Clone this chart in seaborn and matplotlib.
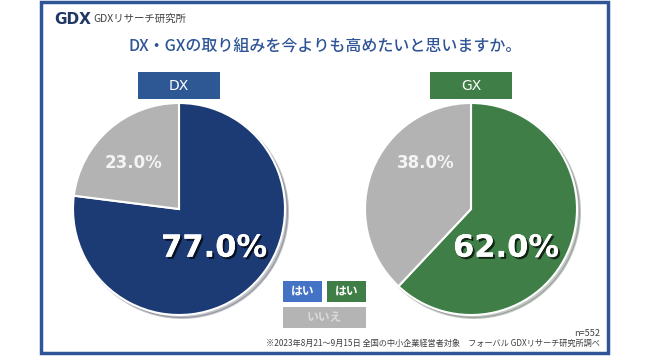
import matplotlib
matplotlib.use("Agg")
import matplotlib.pyplot as plt
import matplotlib.patheffects as pe
from matplotlib.patches import Rectangle
import seaborn as sns

# データ
categories = ["はい", "いいえ"]
dx_values = [77.0, 23.0]
gx_values = [62.0, 38.0]
chart_names = ["DX", "GX"]
title = "DX・GXの取り組みを今よりも高めたいと思いますか。"
note = "※2023年8月21～9月15日 全国の中小企業経営者対象　フォーバル GDXリサーチ研究所調べ"
sample = "n=552"

sns.set_theme(style="white")
plt.rcParams['font.family'] = ['Noto Sans CJK JP', 'DejaVu Sans']

W, H = 650, 359
fig = plt.figure(figsize=(6.5, 3.59), dpi=100)
fig.patch.set_facecolor("white")


def fx(x):
    return x / W


def fy(y):
    return 1 - y / H


def box(x0, y0, x1, y1, color, **kw):
    fig.add_artist(Rectangle((fx(x0), fy(y1)), fx(x1) - fx(x0), fy(y0) - fy(y1),
                             transform=fig.transFigure, facecolor=color,
                             edgecolor=kw.get("edgecolor", "none"),
                             lw=kw.get("lw", 0), fill=kw.get("fill", True)))


# 外枠
box(41, 1.5, 608, 353, "none", edgecolor="#2F5597", lw=2.5, fill=False)

# ロゴとタイトル
fig.text(fx(54), fy(19), "GDX", fontsize=11, weight="bold", color="#1F3864",
         family="DejaVu Sans", ha="left", va="center")
fig.text(fx(93), fy(19), "GDXリサーチ研究所", fontsize=7.5, color="#404040",
         ha="left", va="center")
fig.text(fx(325), fy(47), title, fontsize=11.5, weight="medium",
         color="#2F5597", ha="center", va="center")

# 円グラフ
gray = "#B3B3B3"
main_colors = ["#1C3B75", "#3F7E46"]
tag_colors = ["#2E5894", "#3F7E46"]
lefts = [73, 365]
for name, vals, col, tag, left in zip(chart_names, [dx_values, gx_values],
                                       main_colors, tag_colors, lefts):
    ax = fig.add_axes([fx(left), fy(315), 212 / W, 212 / H])
    ax.pie(vals, colors=[col, gray], startangle=90, counterclock=False,
           wedgeprops=dict(edgecolor="white", linewidth=1.5),
           shadow=dict(ox=0.02, oy=-0.02, alpha=0.25))
    ax.set_xlim(-1.0, 1.0)
    ax.set_ylim(-1.0, 1.0)
    ax.text(0.33, -0.37, f"{vals[0]:.1f}%", ha="center", va="center",
            fontsize=22, weight="bold", color="white", family="DejaVu Sans",
            path_effects=[pe.withSimplePatchShadow(offset=(1.5, -1.5),
                                                   shadow_rgbFace="black", alpha=0.7),
                          pe.Normal()])
    ax.text(-0.43, 0.43, f"{vals[1]:.1f}%", ha="center", va="center",
            fontsize=12, weight="bold", color="#F4F4F4", family="DejaVu Sans")

    cx = left + 106
    box(cx - 41, 72, cx + 41, 99, tag)
    fig.text(fx(cx), fy(85.5), name, fontsize=10, color="white",
             family="DejaVu Sans", ha="center", va="center")

# 凡例
box(283, 281, 322, 302, "#4472C4")
box(327, 281, 366, 302, "#3F7E46")
box(283, 307, 366, 328, "#B4B4B4")
fig.text(fx(302.5), fy(291.5), categories[0], fontsize=8.5, weight="bold",
         color="white", ha="center", va="center")
fig.text(fx(346.5), fy(291.5), categories[0], fontsize=8.5, weight="bold",
         color="white", ha="center", va="center")
fig.text(fx(324.5), fy(317.5), categories[1], fontsize=8.5, weight="bold",
         color="#DADADA", ha="center", va="center")

# 注記
fig.text(fx(600), fy(333), sample, fontsize=6.5, color="#404040",
         ha="right", va="center")
fig.text(fx(600), fy(343), note, fontsize=5.9, color="#404040",
         ha="right", va="center")

fig.savefig("out.png", dpi=100)
